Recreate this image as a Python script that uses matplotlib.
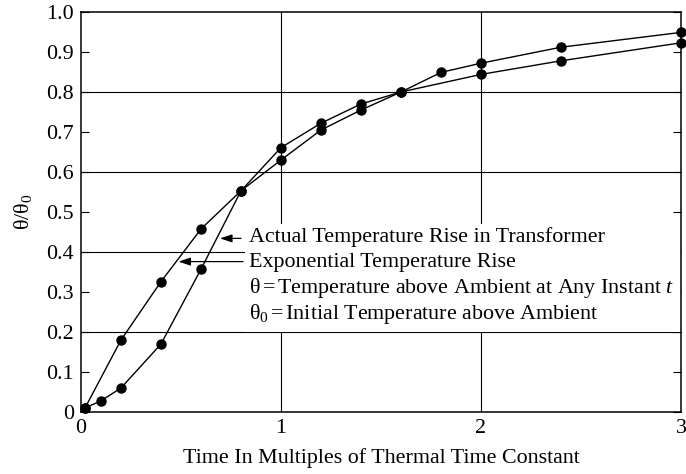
import matplotlib
matplotlib.use("Agg")
import matplotlib.pyplot as plt
from matplotlib.patches import Rectangle

plt.rcParams['font.family'] = ['Liberation Serif', 'DejaVu Serif']
plt.rcParams['mathtext.fontset'] = 'custom'
plt.rcParams['mathtext.rm'] = 'Liberation Serif'
plt.rcParams['mathtext.it'] = 'Liberation Serif:italic'

# Actual temperature rise in transformer (S-shaped curve)
actual_t = [0.02, 0.1, 0.2, 0.4, 0.6, 0.8, 1.0, 1.2, 1.4, 1.6, 1.8, 2.0, 2.4, 3.0]
actual_v = [0.01, 0.028, 0.06, 0.17, 0.357, 0.553, 0.661, 0.722, 0.77, 0.80, 0.849, 0.872, 0.912, 0.949]

# Exponential temperature rise
expo_t = [0.02, 0.2, 0.4, 0.6, 0.8, 1.0, 1.2, 1.4, 1.6, 2.0, 2.4, 3.0]
expo_v = [0.01, 0.18, 0.326, 0.4575, 0.553, 0.63, 0.705, 0.755, 0.80, 0.844, 0.878, 0.923]

x_ticks = [0, 1, 2, 3]
x_labels = ["0", "1", "2", "3"]
y_ticks = [0, 0.1, 0.2, 0.3, 0.4, 0.5, 0.6, 0.7, 0.8, 0.9, 1.0]
y_labels = ["0", "0.1", "0.2", "0.3", "0.4", "0.5", "0.6", "0.7", "0.8", "0.9", "1.0"]
grid_x = [1, 2]
grid_y = [0.2, 0.4, 0.6, 0.8]

legend_lines = [
    "Actual Temperature Rise in Transformer",
    "Exponential Temperature Rise",
    "θ$\\,$=$\\,$Temperature above Ambient at Any Instant $t$",
    "θ$_0$$\\,$=$\\,$Initial Temperature above Ambient",
]

FS = 15.8

fig = plt.figure(figsize=(6.86, 4.74), dpi=100)
ax = fig.add_axes([81/686, 1-412/474, 600/686, 400/474])
ax.set_xlim(0, 3)
ax.set_ylim(0, 1.0)

for gx in grid_x:
    ax.axvline(gx, color='black', lw=0.8, zorder=0.5)
for gy in grid_y:
    ax.axhline(gy, color='black', lw=0.8, zorder=0.5)

ax.set_axisbelow(True)
ax.set_xticks(x_ticks)
ax.set_xticklabels(x_labels)
ax.set_yticks(y_ticks)
ax.set_yticklabels(y_labels)
ax.tick_params(axis='y', direction='in', length=6, width=0.8, right=True, labelsize=FS, pad=5)
ax.tick_params(axis='x', length=0, labelsize=FS, pad=5)
for s in ax.spines.values():
    s.set_linewidth(1.1)
    s.set_zorder(3)

# white box behind the legend text
ax.add_patch(Rectangle((0.82, 0.2), 2.18, 0.27, facecolor='white', edgecolor='none', zorder=1))

ax.plot(actual_t, actual_v, color='black', lw=1.0, marker='o', markersize=6.5, zorder=2, clip_on=False)
ax.plot(expo_t, expo_v, color='black', lw=1.0, marker='o', markersize=6.5, zorder=2, clip_on=False)

arrow_kw = dict(arrowstyle='-|>,head_length=0.6,head_width=0.2', color='black', lw=0.9,
                shrinkA=0, shrinkB=0, mutation_scale=12)
ax.annotate('', xy=(0.695, 0.434), xytext=(0.80, 0.434), arrowprops=arrow_kw, zorder=2)
ax.annotate('', xy=(0.487, 0.376), xytext=(0.81, 0.376), arrowprops=arrow_kw, zorder=2)

text_y = [0.438, 0.373, 0.309, 0.244]
for ty, txt in zip(text_y, legend_lines):
    ax.text(0.84, ty, txt, ha='left', va='center', fontsize=FS, zorder=4)

ax.set_xlabel("Time In Multiples of Thermal Time Constant", fontsize=FS, labelpad=7)
ax.set_ylabel("θ/θ$_0$", fontsize=FS, labelpad=9)

fig.savefig("out.png", dpi=100)
